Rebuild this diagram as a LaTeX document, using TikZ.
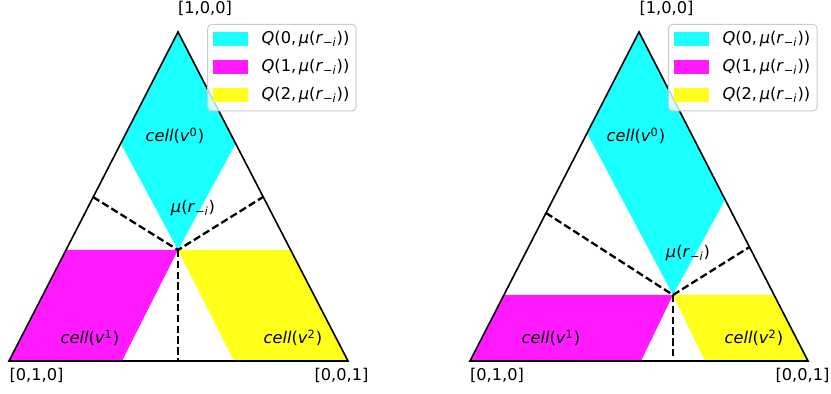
\documentclass[tikz,border=0pt]{standalone}
\usepackage{fontspec}
\setmainfont{DejaVu Sans}
\usetikzlibrary{positioning}
\definecolor{CellCyan}{HTML}{1AFFFF}
\definecolor{CellMagenta}{HTML}{FF1AFF}
\definecolor{CellYellow}{HTML}{FFFF1A}
\definecolor{FrameGray}{HTML}{CCCCCC}
\newcommand{\muri}{\textit{μ}(\textit{r}\textsubscript{−\textit{i}})}
\newcommand{\cellv}[1]{\textit{cell}(\textit{v}\textsuperscript{#1})}

\begin{document}
\begin{tikzpicture}[x=0.5pt, y=-0.5pt,
    font=\fontsize{8.1}{9.7}\selectfont,
    edge/.style={line width=0.8pt, line join=miter},
    divider/.style={line width=1.15pt, dash pattern=on 3.7pt off 1.7pt},
    lbl/.style={inner sep=0pt},
    legframe/.style={draw=FrameGray, fill=white, fill opacity=0.8, rounded corners=2pt, line width=0.5pt, minimum width=74.2pt, minimum height=43.3pt, inner sep=0pt},
    patch/.style={minimum width=17.5pt, minimum height=6.7pt, inner sep=0pt}]
    \useasboundingbox (0,0) rectangle (831,394);

    % left simplex
    \coordinate (A1) at (178,32);
    \coordinate (B1) at (9,361);
    \coordinate (C1) at (348,361);
    \coordinate (M1) at (178,250);
    \coordinate (L1) at (93,197);
    \coordinate (R1) at (263,197);
    \coordinate (D1) at (178,361);
    \fill[CellCyan] (A1) -- (121,144) -- (M1) -- (235.5,144) -- cycle;
    \fill[CellMagenta] (B1) -- (66,250) -- (M1) -- (122,361) -- cycle;
    \fill[CellYellow] (M1) -- (290.6,250) -- (C1) -- (234,361) -- cycle;
    \draw[edge] (A1) -- (B1) -- (C1) -- cycle;
    \draw[divider] (L1) -- (M1) -- (R1);
    \draw[divider] (M1) -- (D1);

    % right simplex
    \coordinate (A2) at (639,32);
    \coordinate (B2) at (470,361);
    \coordinate (C2) at (808,361);
    \coordinate (M2) at (673,295);
    \coordinate (L2) at (546,213);
    \coordinate (R2) at (749.5,247);
    \coordinate (D2) at (673,361);
    \fill[CellCyan] (A2) -- (587,133) -- (M2) -- (725,200) -- cycle;
    \fill[CellMagenta] (B2) -- (504,295) -- (M2) -- (641,361) -- cycle;
    \fill[CellYellow] (M2) -- (774,295) -- (C2) -- (705,361) -- cycle;
    \draw[edge] (A2) -- (B2) -- (C2) -- cycle;
    \draw[divider] (L2) -- (M2) -- (R2);
    \draw[divider] (M2) -- (D2);

    % vertex labels
    \node[lbl] (top1) at (205,8) {[1,0,0]};
    \node[lbl] (left1) at (36.5,375) {[0,1,0]};
    \node[lbl] (right1) at (341.5,375) {[0,0,1]};
    \node[lbl] (top2) at (666.5,8) {[1,0,0]};
    \node[lbl] (left2) at (497,375) {[0,1,0]};
    \node[lbl] (right2) at (802.5,375) {[0,0,1]};

    % cell labels
    \node[lbl] (cellA1) at (175,136) {\cellv{0}};
    \node[lbl] (mu1) at (193,208) {\muri};
    \node[lbl] (cellB1) at (90,338) {\cellv{1}};
    \node[lbl] (cellC1) at (293,338) {\cellv{2}};
    \node[lbl] (cellA2) at (636,136) {\cellv{0}};
    \node[lbl] (mu2) at (688,253) {\muri};
    \node[lbl] (cellB2) at (551,338) {\cellv{1}};
    \node[lbl] (cellC2) at (754,338) {\cellv{2}};

    % legends
    \node[legframe] (leg1) at (281.9,67.7) {};
    \node[patch, fill=CellCyan] (pA1) at (230.8,39) {};
    \node[patch, fill=CellMagenta] (pB1) at (230.8,67) {};
    \node[patch, fill=CellYellow] (pC1) at (230.8,95) {};
    \node[lbl, right=6.3pt of pA1] (tA1) {\textit{Q}(0,\,\muri)};
    \node[lbl, right=6.3pt of pB1] (tB1) {\textit{Q}(1,\,\muri)};
    \node[lbl, right=6.3pt of pC1] (tC1) {\textit{Q}(2,\,\muri)};

    \node[legframe] (leg2) at (742.8,67.7) {};
    \node[patch, fill=CellCyan] (pA2) at (691.7,39) {};
    \node[patch, fill=CellMagenta] (pB2) at (691.7,67) {};
    \node[patch, fill=CellYellow] (pC2) at (691.7,95) {};
    \node[lbl, right=6.3pt of pA2] (tA2) {\textit{Q}(0,\,\muri)};
    \node[lbl, right=6.3pt of pB2] (tB2) {\textit{Q}(1,\,\muri)};
    \node[lbl, right=6.3pt of pC2] (tC2) {\textit{Q}(2,\,\muri)};
\end{tikzpicture}
\end{document}
